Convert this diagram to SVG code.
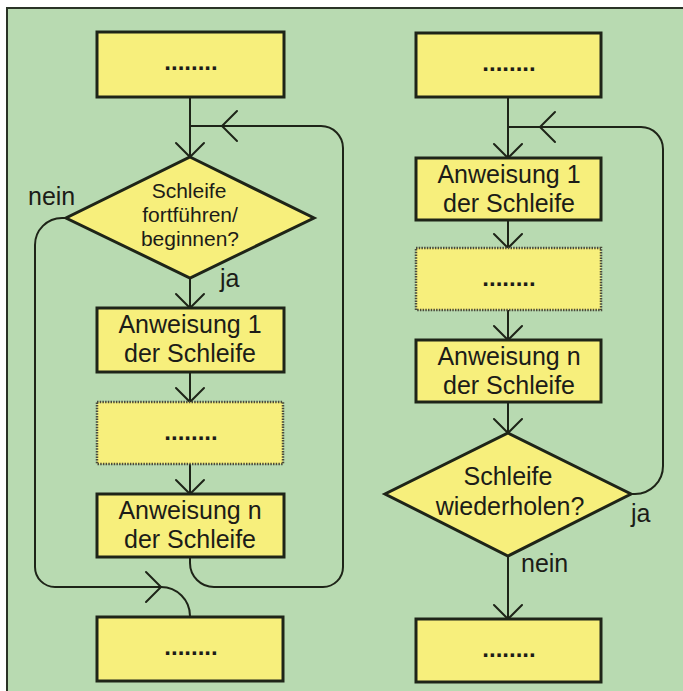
<svg xmlns="http://www.w3.org/2000/svg" width="683" height="691" viewBox="0 0 683 691">
  <defs>
    <style>
      .box { fill: #f7ef7c; stroke: #1e2418; stroke-width: 3; }
      .dotted { fill: #f7ef7c; stroke: #4a4a3a; stroke-width: 2.5; stroke-dasharray: 1.5 1.2; }
      .line { fill: none; stroke: #1e2418; stroke-width: 2; }
      .head { fill: none; stroke: #1e2418; stroke-width: 2; stroke-linecap: round; stroke-linejoin: miter; }
      text { font-family: "Liberation Sans", Arial, Helvetica, sans-serif; font-size: 25px; fill: #1c1c18; }
      .c { text-anchor: middle; }
      .tight { font-size: 21px; }
      .dots { font-weight: bold; font-size: 24px; }
    </style>
  </defs>

  <!-- page and frame -->
  <rect x="0" y="0" width="683" height="691" fill="#ffffff"/>
  <rect x="7" y="8" width="676" height="683" fill="#b8dab1"/>
  <path d="M7,691 L7,8 L683,8" fill="none" stroke="#2a3326" stroke-width="2"/>

  <!-- connectors -->
  <g id="connectors">
    <!-- left flowchart: head-controlled loop -->
    <line class="line" x1="190" y1="97" x2="190" y2="157"/>
    <path class="head" d="M176,143 L190,157 L204,143"/>
    <path class="line" d="M190,557 L190,563 A24 24 0 0 0 214,587 L323,587 A20 20 0 0 0 343,567 L343,148 A22 22 0 0 0 321,126 L190,126"/>
    <path class="head" d="M237,111 L222,126 L237,141"/>
    <line class="line" x1="190" y1="278" x2="190" y2="308"/>
    <path class="head" d="M176,294 L190,308 L204,294"/>
    <line class="line" x1="190" y1="372" x2="190" y2="402"/>
    <path class="head" d="M176,388 L190,402 L204,388"/>
    <line class="line" x1="190" y1="464" x2="190" y2="494"/>
    <path class="head" d="M176,480 L190,494 L204,480"/>
    <path class="line" d="M66,218 L62,218 A27 27 0 0 0 35,245 L35,567 A20 20 0 0 0 55,587 L161,587 A29 29 0 0 1 190,616 L190,617"/>
    <path class="head" d="M146,572 L161,587 L146,602"/>

    <!-- right flowchart: foot-controlled loop -->
    <line class="line" x1="508" y1="97" x2="508" y2="158"/>
    <path class="head" d="M494,144 L508,158 L522,144"/>
    <path class="line" d="M631,494 L635,494 A28 28 0 0 0 663,466 L663,149 A22 22 0 0 0 641,127 L508,127"/>
    <path class="head" d="M555,112 L540,127 L555,142"/>
    <line class="line" x1="508" y1="220" x2="508" y2="248"/>
    <path class="head" d="M494,234 L508,248 L522,234"/>
    <line class="line" x1="508" y1="310" x2="508" y2="340"/>
    <path class="head" d="M494,326 L508,340 L522,326"/>
    <line class="line" x1="508" y1="402" x2="508" y2="433"/>
    <path class="head" d="M494,419 L508,433 L522,419"/>
    <line class="line" x1="508" y1="556" x2="508" y2="619"/>
    <path class="head" d="M494,605 L508,619 L522,605"/>
  </g>

  <!-- left flowchart nodes -->
  <g id="l-start">
    <rect class="box" x="97" y="32" width="187" height="65"/>
    <text class="c dots" x="191" y="70">........</text>
  </g>
  <g id="l-decision">
    <polygon class="box" points="190,157 314,218 190,278 66,218"/>
    <text class="c tight" x="189" y="198">Schleife</text>
    <text class="c tight" x="190" y="222">fortführen/</text>
    <text class="c tight" x="190" y="246">beginnen?</text>
  </g>
  <g id="l-label-nein"><text x="28" y="205">nein</text></g>
  <g id="l-label-ja"><text x="220" y="287">ja</text></g>
  <g id="l-step1">
    <rect class="box" x="97" y="308" width="187" height="64"/>
    <text class="c" x="190" y="333">Anweisung 1</text>
    <text class="c" x="190" y="362">der Schleife</text>
  </g>
  <g id="l-steps">
    <rect class="dotted" x="97" y="402" width="186" height="62"/>
    <text class="c dots" x="191" y="440">........</text>
  </g>
  <g id="l-stepn">
    <rect class="box" x="97" y="494" width="187" height="63"/>
    <text class="c" x="190" y="519">Anweisung n</text>
    <text class="c" x="190" y="548">der Schleife</text>
  </g>
  <g id="l-end">
    <rect class="box" x="97" y="617" width="186" height="64"/>
    <text class="c dots" x="191" y="655">........</text>
  </g>

  <!-- right flowchart nodes -->
  <g id="r-start">
    <rect class="box" x="416" y="33" width="185" height="64"/>
    <text class="c dots" x="509" y="71">........</text>
  </g>
  <g id="r-step1">
    <rect class="box" x="416" y="158" width="185" height="62"/>
    <text class="c" x="509" y="183">Anweisung 1</text>
    <text class="c" x="509" y="212">der Schleife</text>
  </g>
  <g id="r-steps">
    <rect class="dotted" x="416" y="248" width="185" height="62"/>
    <text class="c dots" x="509" y="286">........</text>
  </g>
  <g id="r-stepn">
    <rect class="box" x="416" y="340" width="185" height="62"/>
    <text class="c" x="509" y="365">Anweisung n</text>
    <text class="c" x="509" y="394">der Schleife</text>
  </g>
  <g id="r-decision">
    <polygon class="box" points="508,433 631,494 508,556 385,494"/>
    <text class="c" x="508" y="485">Schleife</text>
    <text class="c" x="510" y="515">wiederholen?</text>
  </g>
  <g id="r-label-ja"><text x="631" y="522">ja</text></g>
  <g id="r-label-nein"><text x="521" y="572">nein</text></g>
  <g id="r-end">
    <rect class="box" x="416" y="619" width="185" height="63"/>
    <text class="c dots" x="509" y="657">........</text>
  </g>
</svg>
